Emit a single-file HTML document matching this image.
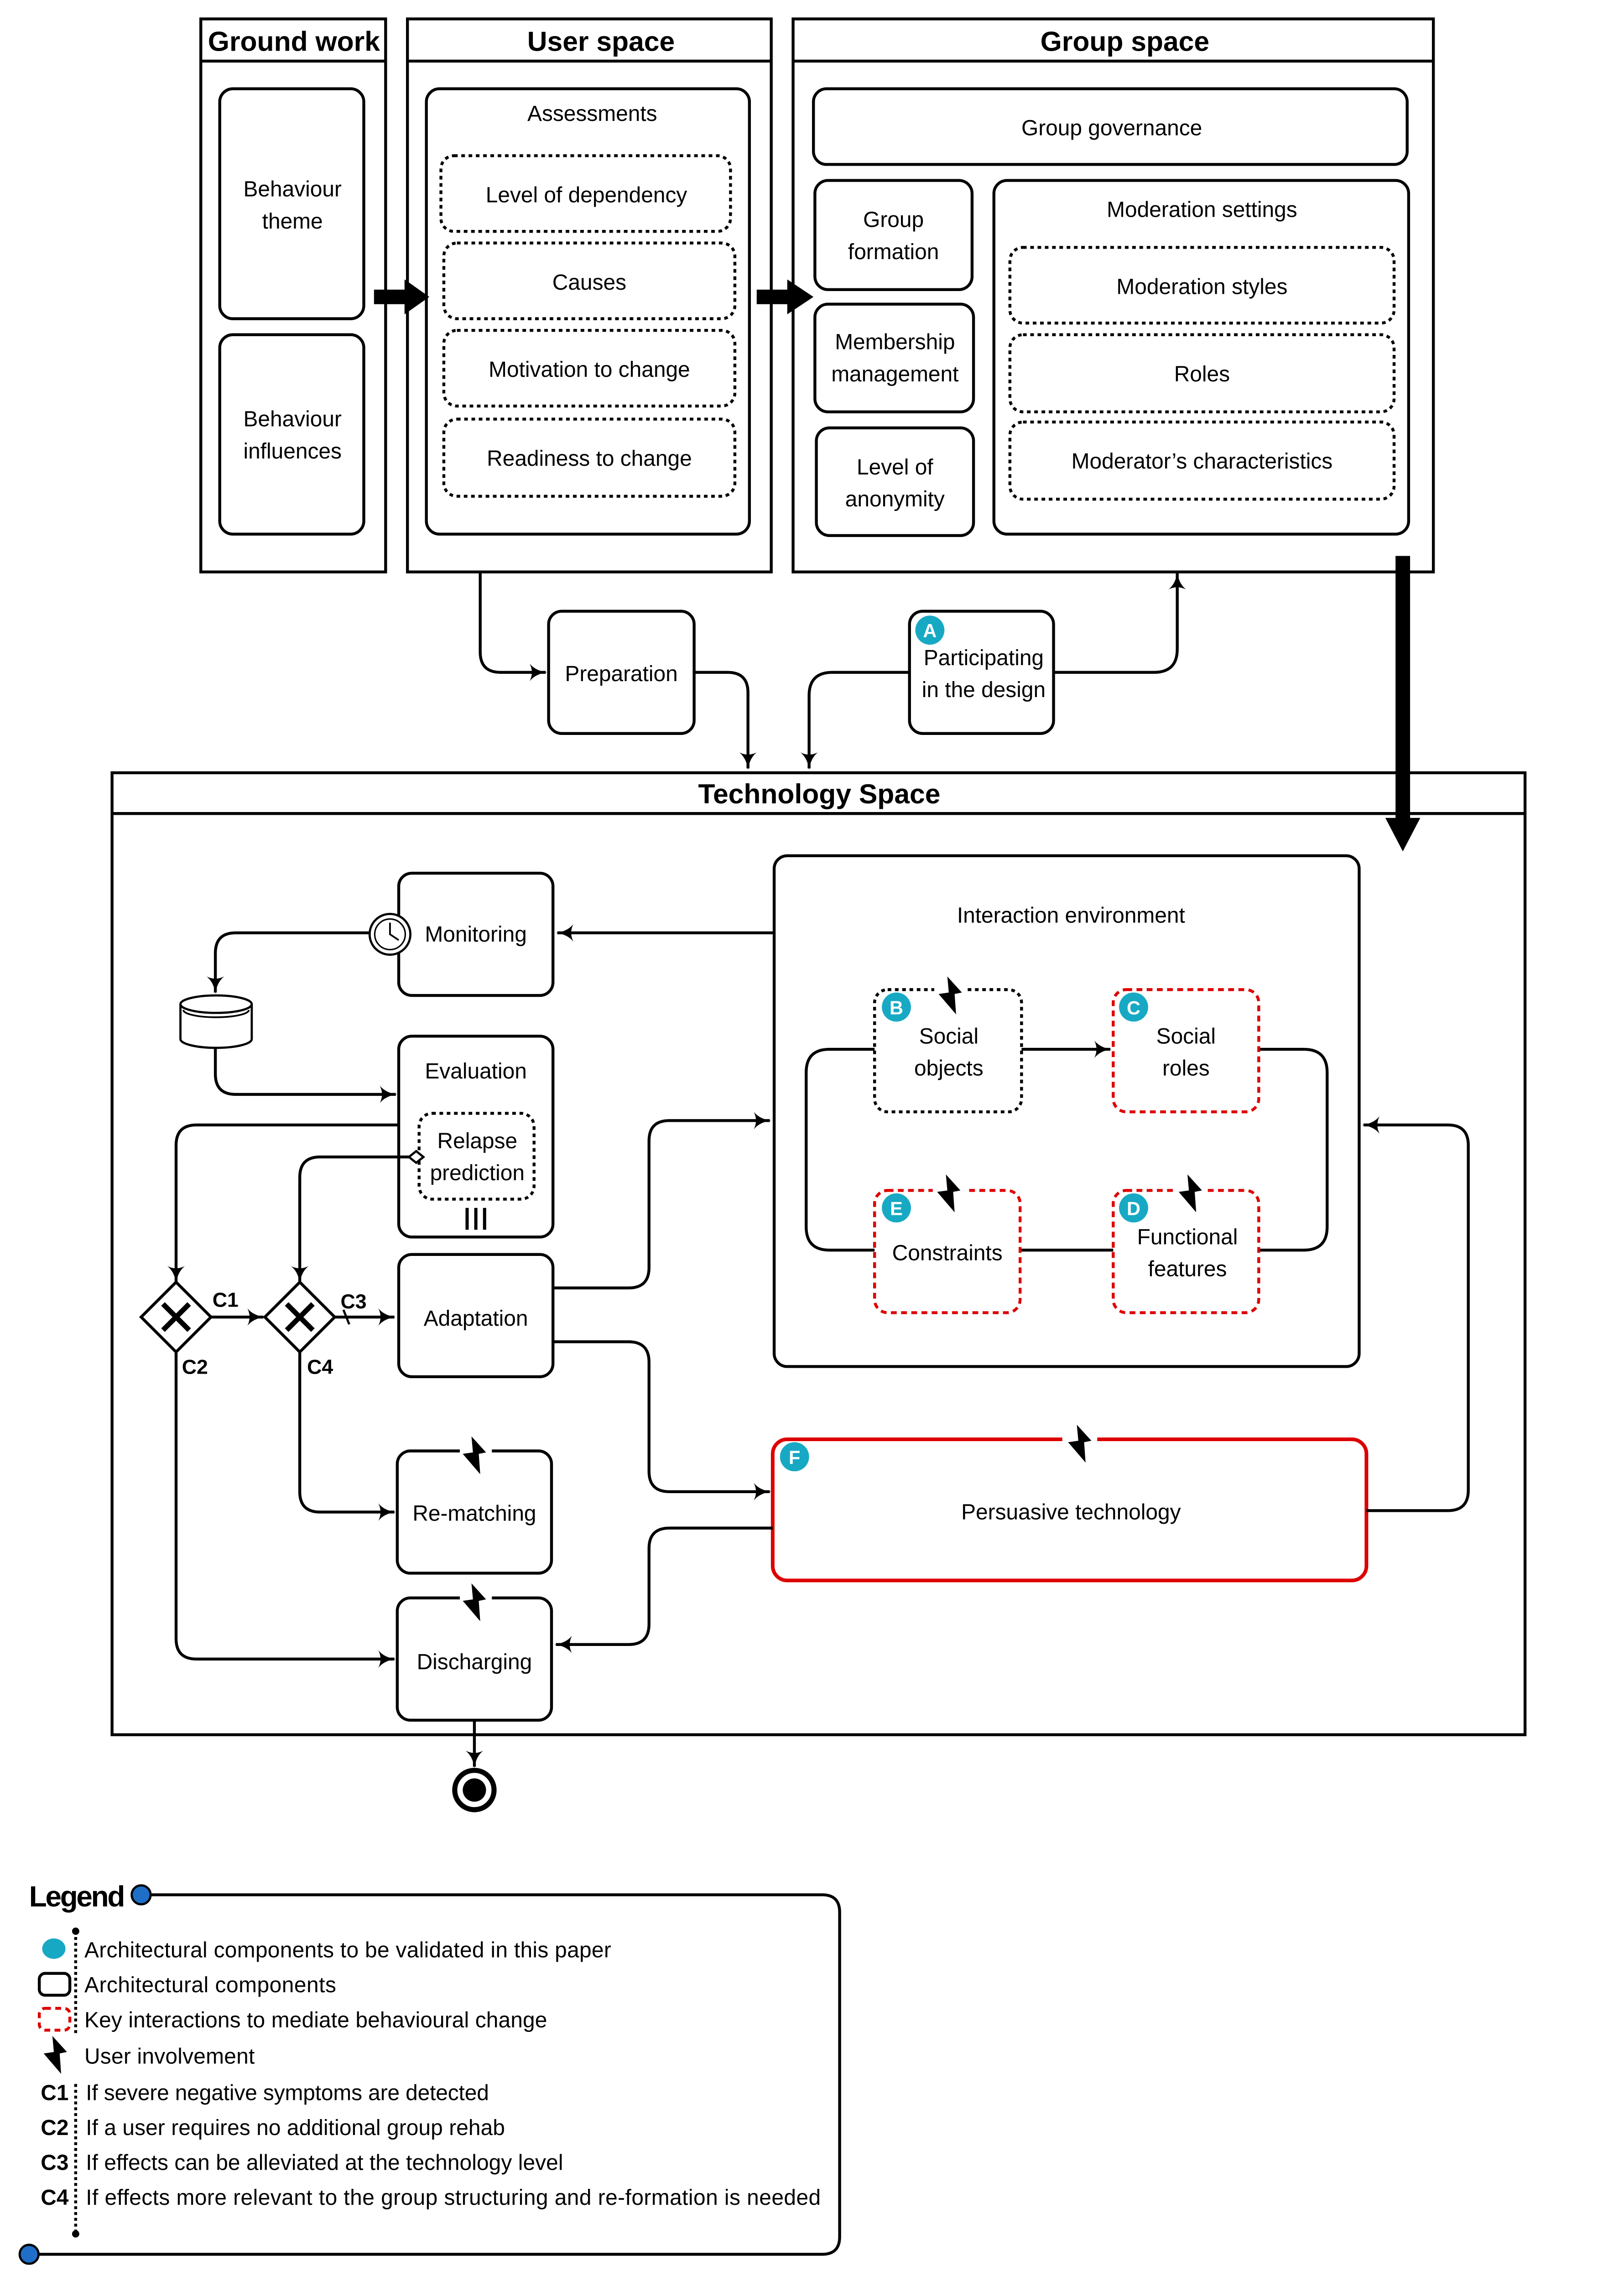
<!DOCTYPE html>
<html><head><meta charset="utf-8"><style>
html,body{margin:0;padding:0;background:#fff;overflow:hidden;height:5270px}
svg{display:block}
text{font-family:"Liberation Sans",sans-serif;font-size:15px;fill:#000}
.b{font-weight:bold}
.r{fill:none;stroke:#000;stroke-width:2}
.d{fill:none;stroke:#000;stroke-width:2;stroke-dasharray:2.5 2.5}
.rd{fill:none;stroke:#d00;stroke-width:2;stroke-dasharray:4 3}
.l{fill:none;stroke:#000;stroke-width:2}
.bd{fill:#17a9c4}
.bt{fill:#fff;font-weight:bold;font-size:13px}
</style></head><body>
<svg width="3560" height="5270" viewBox="0 0 1116 1652" preserveAspectRatio="none" xmlns="http://www.w3.org/2000/svg">
<defs>
<marker id="a" viewBox="0 0 12 12" refX="11" refY="6" markerWidth="12" markerHeight="12" markerUnits="userSpaceOnUse" orient="auto"><path d="M0,0 Q4,5 12,6 Q4,7 0,12 Q3,6 0,0Z" fill="#000"/></marker>
<path id="bolt" d="M-3,-13 L7,-2 L2,-1 L3,13 L-9,-1 L-2,-2 Z" fill="#000"/>
</defs>
<rect width="1116" height="1652" fill="#fff"/>
<!-- Ground work -->
<rect x="138" y="13" width="127" height="380" class="r"/><line x1="138" y1="42" x2="265" y2="42" class="l"/>
<text x="202" y="35" text-anchor="middle" class="b" style="font-size:19px">Ground work</text>
<rect x="151" y="61" width="99" height="158" rx="9" class="r"/>
<text x="201" y="135" text-anchor="middle">Behaviour</text><text x="201" y="157" text-anchor="middle">theme</text>
<rect x="151" y="230" width="99" height="137" rx="9" class="r"/>
<text x="201" y="293" text-anchor="middle">Behaviour</text><text x="201" y="315" text-anchor="middle">influences</text>
<!-- User space -->
<rect x="280" y="13" width="250" height="380" class="r"/><line x1="280" y1="42" x2="530" y2="42" class="l"/>
<text x="413" y="35" text-anchor="middle" class="b" style="font-size:19px">User space</text>
<rect x="293" y="61" width="222" height="306" rx="9" class="r"/>
<text x="407" y="83" text-anchor="middle">Assessments</text>
<rect x="303" y="107" width="199" height="52" rx="9" class="d"/><text x="403" y="139" text-anchor="middle">Level of dependency</text>
<rect x="305" y="167" width="200" height="52" rx="9" class="d"/><text x="405" y="199" text-anchor="middle">Causes</text>
<rect x="305" y="227" width="200" height="52" rx="9" class="d"/><text x="405" y="259" text-anchor="middle">Motivation to change</text>
<rect x="305" y="288" width="200" height="53" rx="9" class="d"/><text x="405" y="320" text-anchor="middle">Readiness to change</text>
<polygon points="257,199 278,199 278,192 295,204 278,216 278,209 257,209" fill="#000"/>
<polygon points="520,199 541,199 541,192 559,204 541,216 541,209 520,209" fill="#000"/>
<!-- Group space -->
<rect x="545" y="13" width="440" height="380" class="r"/><line x1="545" y1="42" x2="985" y2="42" class="l"/>
<text x="773" y="35" text-anchor="middle" class="b" style="font-size:19px">Group space</text>
<rect x="559" y="61" width="408" height="52" rx="9" class="r"/><text x="764" y="93" text-anchor="middle">Group governance</text>
<rect x="560" y="124" width="108" height="75" rx="9" class="r"/><text x="614" y="156" text-anchor="middle">Group</text><text x="614" y="178" text-anchor="middle">formation</text>
<rect x="560" y="209" width="109" height="74" rx="9" class="r"/><text x="615" y="240" text-anchor="middle">Membership</text><text x="615" y="262" text-anchor="middle">management</text>
<rect x="561" y="294" width="108" height="74" rx="9" class="r"/><text x="615" y="326" text-anchor="middle">Level of</text><text x="615" y="348" text-anchor="middle">anonymity</text>
<rect x="683" y="124" width="285" height="243" rx="9" class="r"/><text x="826" y="149" text-anchor="middle">Moderation settings</text>
<rect x="694" y="170" width="264" height="52" rx="9" class="d"/><text x="826" y="202" text-anchor="middle">Moderation styles</text>
<rect x="694" y="230" width="264" height="53" rx="9" class="d"/><text x="826" y="262" text-anchor="middle">Roles</text>
<rect x="694" y="290" width="264" height="53" rx="9" class="d"/><text x="826" y="322" text-anchor="middle">Moderator’s characteristics</text>
<polygon points="959,382 969,382 969,562 976,562 964,585 952,562 959,562" fill="#000"/>
<!-- Preparation / Participating -->
<path d="M330,393 V448 Q330,462 344,462 H375" class="l" marker-end="url(#a)"/>
<rect x="377" y="420" width="100" height="84" rx="9" class="r"/><text x="427" y="468" text-anchor="middle">Preparation</text>
<path d="M477,462 H500 Q514,462 514,476 V528" class="l" marker-end="url(#a)"/>
<rect x="625" y="420" width="99" height="84" rx="9" class="r"/>
<text x="676" y="457" text-anchor="middle">Participating</text><text x="676" y="479" text-anchor="middle">in the design</text>
<circle cx="639" cy="433" r="10" class="bd"/><text x="639" y="438" text-anchor="middle" class="bt">A</text>
<path d="M625,462 H572 Q556,462 556,478 V528" class="l" marker-end="url(#a)"/>
<path d="M724,462 H793 Q809,462 809,446 V394" class="l" marker-end="url(#a)"/>
<!-- Technology space -->
<rect x="77" y="531" width="971" height="661" class="r"/><line x1="77" y1="559" x2="1048" y2="559" class="l"/>
<text x="563" y="552" text-anchor="middle" class="b" style="font-size:19px">Technology Space</text>
<rect x="274" y="600" width="106" height="84" rx="9" class="r"/><text x="327" y="647" text-anchor="middle">Monitoring</text>
<circle cx="268" cy="642" r="14" fill="#fff" stroke="#000" stroke-width="1.5"/><circle cx="268" cy="642" r="10.5" fill="none" stroke="#000" stroke-width="1"/>
<path d="M268,634 V642 L274,646" fill="none" stroke="#000" stroke-width="1.2"/>
<path d="M531,641 H383" class="l" marker-end="url(#a)"/>
<path d="M254,641 H162 Q148,641 148,655 V682" class="l" marker-end="url(#a)"/>
<path d="M124,690 V714 A24.5,6 0 0 0 173,714 V690" fill="#fff" stroke="#000" stroke-width="1.5"/>
<ellipse cx="148.5" cy="690" rx="24.5" ry="6" fill="#fff" stroke="#000" stroke-width="1.5"/>
<path d="M126,694 A22.5,5 0 0 0 171,694" fill="none" stroke="#000" stroke-width="1.2"/>
<path d="M148,720 V738 Q148,752 162,752 H272" class="l" marker-end="url(#a)"/>
<rect x="274" y="712" width="106" height="138" rx="9" class="r"/><text x="327" y="741" text-anchor="middle">Evaluation</text>
<rect x="288" y="765" width="79" height="59" rx="9" class="d"/><text x="328" y="789" text-anchor="middle">Relapse</text><text x="328" y="811" text-anchor="middle">prediction</text>
<path d="M321,830 V845 M327,830 V845 M333,830 V845" stroke="#000" stroke-width="2.2"/>
<rect x="274" y="862" width="106" height="84" rx="9" class="r"/><text x="327" y="911" text-anchor="middle">Adaptation</text>
<rect x="273" y="997" width="106" height="84" rx="9" class="r"/><text x="326" y="1045" text-anchor="middle">Re-matching</text>
<rect x="273" y="1098" width="106" height="84" rx="9" class="r"/><text x="326" y="1147" text-anchor="middle">Discharging</text>
<rect x="316" y="985" width="22" height="26" fill="#fff"/><use href="#bolt" x="327" y="1000"/>
<rect x="316" y="1086" width="22" height="26" fill="#fff"/><use href="#bolt" x="327" y="1101"/>
<path d="M274,773 H135 Q121,773 121,787 V881" class="l" marker-end="url(#a)"/>
<path d="M281,795 H220 Q206,795 206,809 V881" class="l" marker-end="url(#a)"/>
<path d="M281,795 L286,791 L291,795 L286,799 Z" fill="#fff" stroke="#000" stroke-width="1.5"/>
<path d="M97,905 L121,881 L145,905 L121,929 Z" fill="#fff" stroke="#000" stroke-width="2"/>
<path d="M112,896 L130,914 M130,896 L112,914" stroke="#000" stroke-width="3.5"/>
<path d="M182,905 L206,881 L230,905 L206,929 Z" fill="#fff" stroke="#000" stroke-width="2"/>
<path d="M197,896 L215,914 M215,896 L197,914" stroke="#000" stroke-width="3.5"/>
<path d="M145,905 H181" class="l" marker-end="url(#a)"/>
<path d="M230,905 H271" class="l" marker-end="url(#a)"/>
<path d="M236,900 L240,910" stroke="#000" stroke-width="1.5"/>
<text x="146" y="898" class="b" style="font-size:14px">C1</text><text x="234" y="899" class="b" style="font-size:14px">C3</text>
<text x="125" y="944" class="b" style="font-size:14px">C2</text><text x="211" y="944" class="b" style="font-size:14px">C4</text>
<path d="M121,929 V1126 Q121,1140 135,1140 H271" class="l" marker-end="url(#a)"/>
<path d="M206,929 V1025 Q206,1039 220,1039 H271" class="l" marker-end="url(#a)"/>
<path d="M326,1182 V1214" class="l" marker-end="url(#a)"/>
<circle cx="326" cy="1230" r="13.5" fill="#fff" stroke="#000" stroke-width="3.5"/><circle cx="326" cy="1230" r="8" fill="#000"/>
<!-- Interaction environment -->
<rect x="532" y="588" width="402" height="351" rx="9" class="r"/>
<text x="736" y="634" text-anchor="middle">Interaction environment</text>
<path d="M601,721 H570 Q554,721 554,737 V843 Q554,859 570,859 H601" class="l"/>
<path d="M865,721 H896 Q912,721 912,737 V843 Q912,859 896,859 H865" class="l"/>
<path d="M702,721 H763" class="l" marker-end="url(#a)"/>
<path d="M701,859 H765" class="l"/>
<rect x="601" y="680" width="101" height="84" rx="9" class="d"/><text x="652" y="717" text-anchor="middle">Social</text><text x="652" y="739" text-anchor="middle">objects</text>
<rect x="765" y="680" width="100" height="84" rx="9" class="rd"/><text x="815" y="717" text-anchor="middle">Social</text><text x="815" y="739" text-anchor="middle">roles</text>
<rect x="601" y="818" width="100" height="84" rx="9" class="rd"/><text x="651" y="866" text-anchor="middle">Constraints</text>
<rect x="765" y="818" width="100" height="84" rx="9" class="rd"/><text x="816" y="855" text-anchor="middle">Functional</text><text x="816" y="877" text-anchor="middle">features</text>
<rect x="642" y="670" width="22" height="20" fill="#fff"/><use href="#bolt" x="654" y="684"/>
<rect x="641" y="806" width="22" height="20" fill="#fff"/><use href="#bolt" x="653" y="820"/>
<rect x="807" y="806" width="22" height="20" fill="#fff"/><use href="#bolt" x="819" y="820"/>
<circle cx="616" cy="692" r="10" class="bd"/><text x="616" y="697" text-anchor="middle" class="bt">B</text>
<circle cx="779" cy="692" r="10" class="bd"/><text x="779" y="697" text-anchor="middle" class="bt">C</text>
<circle cx="616" cy="830" r="10" class="bd"/><text x="616" y="835" text-anchor="middle" class="bt">E</text>
<circle cx="779" cy="830" r="10" class="bd"/><text x="779" y="835" text-anchor="middle" class="bt">D</text>
<path d="M380,885 H432 Q446,885 446,871 V784 Q446,770 460,770 H529" class="l" marker-end="url(#a)"/>
<path d="M380,922 H432 Q446,922 446,936 V1011 Q446,1025 460,1025 H529" class="l" marker-end="url(#a)"/>
<rect x="531" y="989" width="408" height="97" rx="10" fill="none" stroke="#d00" stroke-width="2.5"/>
<rect x="730" y="980" width="24" height="22" fill="#fff"/><use href="#bolt" x="743" y="992"/>
<circle cx="546" cy="1001" r="10" class="bd"/><text x="546" y="1006" text-anchor="middle" class="bt">F</text>
<text x="736" y="1044" text-anchor="middle">Persuasive technology</text>
<path d="M939,1038 H995 Q1009,1038 1009,1024 V787 Q1009,773 995,773 H937" class="l" marker-end="url(#a)"/>
<path d="M531,1050 H460 Q446,1050 446,1064 V1116 Q446,1130 432,1130 H382" class="l" marker-end="url(#a)"/>
<!-- Legend -->
<text x="20" y="1310" class="b" style="font-size:20px" textLength="66">Legend</text>
<circle cx="97" cy="1302" r="6.5" fill="#1f6fc9" stroke="#000" stroke-width="1.5"/>
<path d="M104,1302 H565 Q577,1302 577,1314 V1537 Q577,1549 565,1549 H27" class="l"/>
<circle cx="20" cy="1549" r="6.5" fill="#1f6fc9" stroke="#000" stroke-width="1.5"/>
<path d="M52,1327 V1397 M52,1432 V1534" stroke="#000" stroke-width="2" stroke-dasharray="2 2"/>
<circle cx="52" cy="1327" r="2.5"/><circle cx="52" cy="1535" r="2.5"/>
<ellipse cx="37" cy="1339" rx="8" ry="7" class="bd"/>
<rect x="27" y="1356" width="21" height="15" rx="4" class="r"/>
<rect x="27" y="1380" width="21" height="15" rx="4" class="rd"/>
<use href="#bolt" x="39" y="1412"/>
<g style="font-size:14px">
<text x="58" y="1345" textLength="362">Architectural components to be validated in this paper</text>
<text x="58" y="1369" textLength="173">Architectural components</text>
<text x="58" y="1393" textLength="318">Key interactions to mediate behavioural change</text>
<text x="58" y="1418" textLength="117">User involvement</text>
<text x="59" y="1443" textLength="277">If severe negative symptoms are detected</text>
<text x="59" y="1467" textLength="288">If a user requires no additional group rehab</text>
<text x="59" y="1491" textLength="328">If effects can be alleviated at the technology level</text>
<text x="59" y="1515" textLength="505">If effects more relevant to the group structuring and re-formation is needed</text>
<text x="28" y="1443" class="b">C1</text><text x="28" y="1467" class="b">C2</text><text x="28" y="1491" class="b">C3</text><text x="28" y="1515" class="b">C4</text>
</g>
</svg>
</body></html>
